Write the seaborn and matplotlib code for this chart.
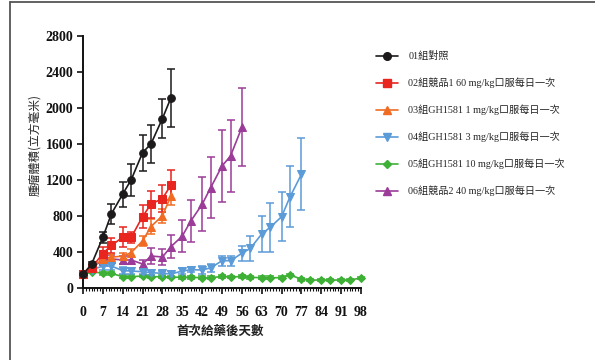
import numpy as np
import pandas as pd
import matplotlib
matplotlib.use("Agg")
import matplotlib.pyplot as plt
from matplotlib.lines import Line2D
from matplotlib.ticker import MultipleLocator
import seaborn as sns

# measurement days
days_ctrl = [0, 3, 7, 10, 14, 17, 21, 24, 28, 31]
days_g04 = [0, 3, 7, 10, 14, 17, 21, 24, 28, 31, 35, 38, 42, 45, 49, 52, 56, 59, 63, 66, 70, 73, 77]
days_g05 = [0, 3, 7, 10, 14, 17, 21, 24, 28, 31, 35, 38, 42, 45, 49, 52, 56, 59, 63, 66, 70, 73, 77,
            80, 84, 87, 91, 94, 98]
days_g06 = [0, 3, 7, 10, 14, 17, 21, 24, 28, 31, 35, 38, 42, 45, 49, 52, 56]

# mean tumour volume (mm3) and SEM
g01 = [150, 260, 560, 820, 1040, 1200, 1500, 1600, 1880, 2110]
g01_err = [30, 30, 60, 110, 140, 180, 200, 210, 220, 320]
g02 = [150, 220, 380, 470, 560, 560, 790, 930, 990, 1140]
g02_err = [20, 30, 70, 80, 110, 60, 130, 150, 150, 170]
g03 = [150, 220, 320, 340, 350, 390, 520, 680, 800, 1020]
g03_err = [20, 30, 40, 40, 40, 40, 60, 80, 80, 100]
g04 = [150, 200, 240, 240, 190, 185, 178, 167, 160, 152, 185, 200, 197, 220, 300, 300, 382,
       437, 597, 671, 789, 1011, 1260]
g04_err = [20, 30, 40, 40, 40, 30, 30, 30, 30, 30, 30, 30, 40, 40, 55, 55, 85, 140, 200, 270,
           270, 340, 400]
g05 = [150, 180, 160, 160, 122, 122, 130, 122, 122, 118, 115, 115, 111, 111, 125, 118, 125,
       115, 111, 111, 111, 141, 95, 85, 85, 85, 85, 85, 108]
g05_err = [15] * len(g05)
g06 = [150, 230, 300, 320, 308, 308, 263, 352, 341, 456, 574, 741, 926, 1111, 1352, 1463, 1782]
g06_err = [20, 30, 40, 40, 40, 40, 40, 90, 90, 130, 180, 230, 300, 340, 395, 395, 435]

labels = ["01組對照",
          "02組競品1 60 mg/kg口服每日一次",
          "03組GH1581 1 mg/kg口服每日一次",
          "04組GH1581 3 mg/kg口服每日一次",
          "05組GH1581 10 mg/kg口服每日一次",
          "06組競品2 40 mg/kg口服每日一次"]
colors = ["#1c1a1a", "#e8251f", "#f06c24", "#5b9bd8", "#3db035", "#9b3c98"]
markers = ["o", "s", "^", "v", "D", "^"]
msizes = [5.5, 5.5, 5.5, 5.5, 4.3, 5.5]

series = [(days_ctrl, g01, g01_err), (days_ctrl, g02, g02_err), (days_ctrl, g03, g03_err),
          (days_g04, g04, g04_err), (days_g05, g05, g05_err), (days_g06, g06, g06_err)]

frames = []
for lab, (d, v, e) in zip(labels, series):
    frames.append(pd.DataFrame({"day": d, "vol": v, "err": e, "group": lab}))
df = pd.concat(frames, ignore_index=True)

sns.set_style("ticks")
serif = ["Liberation Serif", "Noto Sans CJK TC"]
cjk = ["Noto Sans CJK TC", "DejaVu Sans"]

fig = plt.figure(figsize=(5.95, 3.6), dpi=100)
ax = fig.add_axes([83 / 595, 1 - 287.7 / 360, (361 - 83) / 595, (287.7 - 35.7) / 360])

# draw in reverse so control sits on top
for lab, c, m, ms in list(zip(labels, colors, markers, msizes))[::-1]:
    sub = df[df["group"] == lab]
    ax.errorbar(sub["day"], sub["vol"], yerr=sub["err"], fmt="none", ecolor=c,
                elinewidth=1.1, capsize=2.8, capthick=1.1, zorder=2, clip_on=False)
    sns.lineplot(data=sub, x="day", y="vol", ax=ax, color=c, marker=m, markersize=ms,
                 markeredgecolor=c, linewidth=1.2, zorder=3, legend=False,
                 errorbar=None, clip_on=False)

ax.set_xlim(0, 98)
ax.set_ylim(0, 2800)
ax.xaxis.set_major_locator(MultipleLocator(7))
ax.xaxis.set_minor_locator(MultipleLocator(1))
ax.yaxis.set_major_locator(MultipleLocator(400))
ax.set_xlabel("")
ax.set_ylabel("")
sns.despine(ax=ax)
for s in ["left", "bottom"]:
    ax.spines[s].set_linewidth(1.4)
    ax.spines[s].set_color("#111111")
ax.tick_params(axis="both", which="major", length=4, width=1.2, colors="#111111")
ax.tick_params(axis="x", which="minor", length=2.5, width=0.8, colors="#111111")
ax.tick_params(axis="y", which="major", pad=3)
ax.tick_params(axis="x", which="major", pad=9)
for t in ax.get_xticklabels() + ax.get_yticklabels():
    t.set_fontfamily(serif)
    t.set_fontweight("bold")
    t.set_fontsize(10)

fig.text(35 / 595, 0.597, "腫瘤體積(立方毫米)", rotation=90, ha="center", va="center",
         family=cjk, fontsize=8.5, color="#222222")
fig.text(220 / 595, 1 - 331 / 360, "首次給藥後天數", ha="center", va="center",
         family=cjk, fontsize=9, fontweight="bold", color="#222222")

handles = [Line2D([0], [0], color=c, marker=m, markersize=ms, linewidth=1.2)
           for c, m, ms in zip(colors, markers, msizes)]
fig.legend(handles, labels, loc="upper left", bbox_to_anchor=(372 / 595, 1 - 47 / 360),
           frameon=False, prop={"family": serif, "size": 7.3}, handlelength=2.2,
           handletextpad=1.0, labelspacing=1.62, borderaxespad=0)

# outer frame lines (left and top)
fig.add_artist(Line2D([10 / 595, 10 / 595], [0, 1 - 2 / 360], color="#555555", linewidth=1.3))
fig.add_artist(Line2D([10 / 595, 1], [1 - 2 / 360, 1 - 2 / 360], color="#555555", linewidth=1.3))

fig.savefig("out.png", dpi=100)
